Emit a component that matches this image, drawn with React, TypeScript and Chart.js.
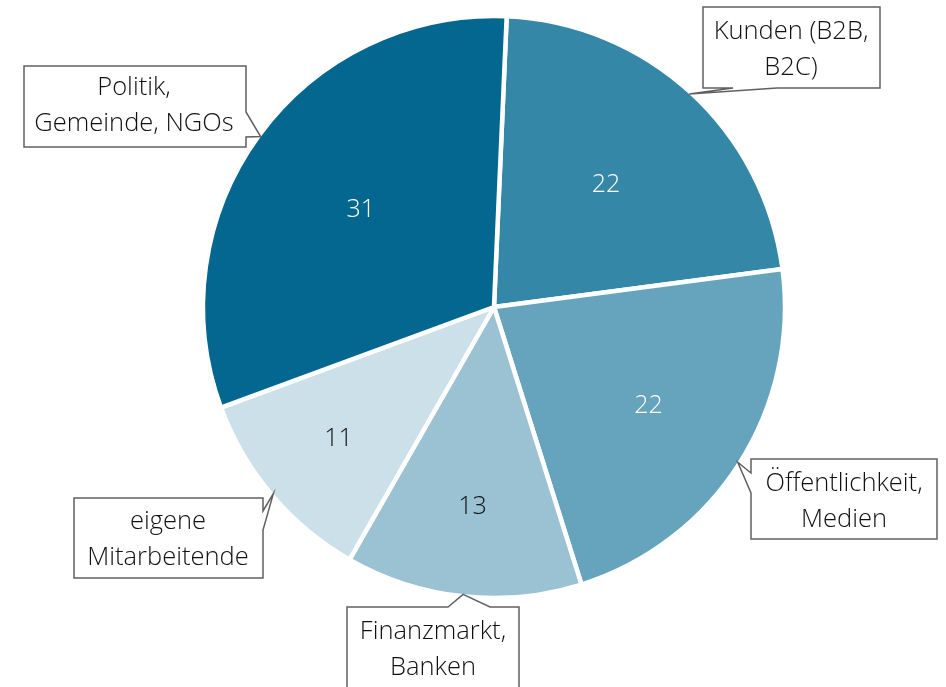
import React, { useEffect, useRef } from "react";
import { Chart, registerables } from "chart.js";

Chart.register(...registerables);

const categories: string[][] = [
  ["Kunden (B2B,", "B2C)"],
  ["Öffentlichkeit,", "Medien"],
  ["Finanzmarkt,", "Banken"],
  ["eigene", "Mitarbeitende"],
  ["Politik,", "Gemeinde, NGOs"],
];
const values: number[] = [22, 22, 13, 11, 31];
const colors: string[] = ["#3587A7", "#66A4BD", "#9AC2D3", "#CCE0E9", "#03678F"];
const valueColors: string[] = ["#ffffff", "#ffffff", "#111111", "#111111", "#ffffff"];
const valueRadius: number[] = [0.57, 0.63, 0.69, 0.7, 0.567];

// callout boxes: x, y, w, h, tail side and tail base (two coordinates along that side, in clockwise order)
type Callout = { x: number; y: number; w: number; h: number; side: "top" | "right" | "bottom" | "left"; a: number; b: number; textX: number; textY: number };
const callouts: Callout[] = [
  { x: 703, y: 7, w: 177, h: 81, side: "bottom", a: 777, b: 733, textX: 791, textY: 32 },
  { x: 751, y: 459, w: 186, h: 80, side: "left", a: 493, b: 473, textX: 844, textY: 484 },
  { x: 347, y: 607, w: 172, h: 100, side: "top", a: 448, b: 490, textX: 433, textY: 632 },
  { x: 74, y: 498, w: 189, h: 80, side: "right", a: 511, b: 530, textX: 168, textY: 522 },
  { x: 24, y: 66, w: 222, h: 81, side: "right", a: 112, b: 137, textX: 134, textY: 88 },
];

const FONT = '"Open Sans", "Segoe UI", sans-serif';

function drawCallout(ctx: CanvasRenderingContext2D, c: Callout, tx: number, ty: number) {
  const { x, y, w, h } = c;
  ctx.beginPath();
  ctx.moveTo(x, y);
  if (c.side === "top") { ctx.lineTo(c.a, y); ctx.lineTo(tx, ty); ctx.lineTo(c.b, y); }
  ctx.lineTo(x + w, y);
  if (c.side === "right") { ctx.lineTo(x + w, c.a); ctx.lineTo(tx, ty); ctx.lineTo(x + w, c.b); }
  ctx.lineTo(x + w, y + h);
  if (c.side === "bottom") { ctx.lineTo(c.a, y + h); ctx.lineTo(tx, ty); ctx.lineTo(c.b, y + h); }
  ctx.lineTo(x, y + h);
  if (c.side === "left") { ctx.lineTo(x, c.a); ctx.lineTo(tx, ty); ctx.lineTo(x, c.b); }
  ctx.closePath();
  ctx.fillStyle = "#ffffff";
  ctx.fill();
  ctx.strokeStyle = "#606060";
  ctx.lineWidth = 1.5;
  ctx.lineJoin = "miter";
  ctx.stroke();
}

const labelPlugin = {
  id: "calloutLabels",
  afterDatasetsDraw(chart: any) {
    const ctx: CanvasRenderingContext2D = chart.ctx;
    const meta = chart.getDatasetMeta(0);
    ctx.save();
    meta.data.forEach((arc: any, i: number) => {
      const p = arc.getProps(["x", "y", "startAngle", "endAngle", "outerRadius"], true);
      const mid = (p.startAngle + p.endAngle) / 2;
      // value label
      const r = p.outerRadius * valueRadius[i];
      ctx.font = `300 25px ${FONT}`;
      ctx.fillStyle = valueColors[i];
      ctx.textAlign = "center";
      ctx.textBaseline = "middle";
      ctx.fillText(String(values[i]), p.x + Math.cos(mid) * r, p.y + Math.sin(mid) * r);
      // callout
      const tipR = p.outerRadius - 2;
      const tx = p.x + Math.cos(mid) * tipR;
      const ty = p.y + Math.sin(mid) * tipR;
      const c = callouts[i];
      drawCallout(ctx, c, tx, ty);
      ctx.fillStyle = "#111111";
      ctx.font = `300 25.5px ${FONT}`;
      categories[i].forEach((line, j) => {
        ctx.fillText(line, c.textX, c.textY + j * 36);
      });
    });
    ctx.restore();
  },
};

export default function App() {
  const ref = useRef<HTMLCanvasElement>(null);
  useEffect(() => {
    if (!ref.current) return;
    const chart = new Chart(ref.current, {
      type: "pie",
      data: {
        labels: categories.map((c) => c.join(" ")),
        datasets: [
          {
            data: values,
            backgroundColor: colors,
            borderColor: "#ffffff",
            borderWidth: 4.5,
            hoverOffset: 0,
          },
        ],
      },
      options: {
        responsive: false,
        animation: false,
        rotation: 2.5,
        radius: 291,
        layout: { padding: { left: 203, right: 161, top: 16, bottom: 89 } },
        plugins: { legend: { display: false }, tooltip: { enabled: false } },
      },
      plugins: [labelPlugin],
    });
    return () => chart.destroy();
  }, []);
  return (
    <div style={{ position: "absolute", left: 0, top: 0, width: 946, height: 687, background: "#fff" }}>
      <canvas ref={ref} width={946} height={687} style={{ display: "block" }} />
    </div>
  );
}
